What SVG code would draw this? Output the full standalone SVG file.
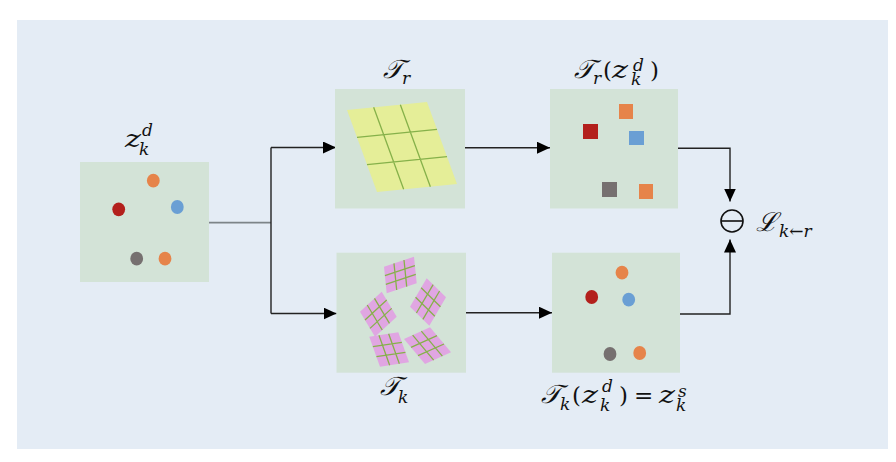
<svg xmlns="http://www.w3.org/2000/svg" width="896" height="462" viewBox="0 0 896 462">
<style>
.box{fill:#d3e3d7}
.m{font-family:"DejaVu Serif","Liberation Serif",serif;font-style:italic;fill:#111;font-size:23px}
.n{font-style:normal}
.z{font-size:24px}
.sm{font-size:17px}
.cal{font-size:26px}
.ln{fill:none;stroke:#222;stroke-width:1.4}
.g{stroke:#86b14a;stroke-width:1.3;vector-effect:non-scaling-stroke;fill:none}
.pk{fill:#e0a6e2}
.yl{fill:#e5ee98}
</style>
<defs>
<marker id="ah" markerUnits="userSpaceOnUse" markerWidth="14" markerHeight="13" refX="13" refY="6" orient="auto">
<path d="M0,0 L13,6 L0,12 z" fill="#000"/>
</marker>
<g id="grid">
<path class="g" d="M0,0.333H1M0,0.667H1M0.333,0V1M0.667,0V1"/>
</g>
</defs>
<rect x="17" y="20" width="871" height="429" fill="#e4ecf5"/>

<g id="connectors">
<path d="M209,222.7H271" fill="none" stroke="#7d8488" stroke-width="1.8"/>
<path class="ln" d="M271,147.5V313.5" stroke="#555"/>
<path class="ln" d="M271,147.5H336" marker-end="url(#ah)"/>
<path class="ln" d="M271,313.5H336.5" marker-end="url(#ah)"/>
<path class="ln" d="M465,147.7H550" marker-end="url(#ah)"/>
<path class="ln" d="M466,312.7H552" marker-end="url(#ah)"/>
<path class="ln" d="M678,148.3H730V201.5" marker-end="url(#ah)"/>
<path class="ln" d="M680,314H730V239.5" marker-end="url(#ah)"/>
</g>

<g id="node-zkd">
<rect class="box" x="80" y="162" width="129" height="120"/>
<ellipse cx="153.3" cy="180.7" rx="6.4" ry="6.9" fill="#e6844a"/>
<ellipse cx="118.7" cy="209.3" rx="6.4" ry="6.9" fill="#b3201c"/>
<ellipse cx="177.3" cy="207" rx="6.4" ry="6.9" fill="#6a9fd4"/>
<ellipse cx="136.7" cy="258.7" rx="6.4" ry="6.9" fill="#767070"/>
<ellipse cx="165" cy="258.7" rx="6.4" ry="6.9" fill="#e6844a"/>
<text class="m"><tspan class="z" x="125" y="147" textLength="16" lengthAdjust="spacingAndGlyphs">z</tspan><tspan class="sm" x="142" y="136">d</tspan><tspan class="sm" x="139" y="155">k</tspan></text>
</g>

<g id="node-Tr">
<rect class="box" x="335" y="89" width="130" height="119.5"/>
<g transform="matrix(80,-8,30,82,347,110)">
<rect class="yl" x="0" y="0" width="1" height="1"/>
<use href="#grid"/>
</g>
<text class="m"><tspan class="cal" x="383" y="78">𝒯</tspan><tspan class="sm" x="402" y="84">r</tspan></text>
</g>

<g id="node-Tk">
<rect class="box" x="336.5" y="252.7" width="129.5" height="120"/>
<g transform="matrix(30,-10,2.7,26.6,384,266.7)"><rect class="pk" width="1" height="1"/><use href="#grid"/></g>
<g transform="matrix(19.3,19,-16.7,28.4,426.7,278.3)"><rect class="pk" width="1" height="1"/><use href="#grid"/></g>
<g transform="matrix(15,25,-21.7,20,381.7,291.7)"><rect class="pk" width="1" height="1"/><use href="#grid"/></g>
<g transform="matrix(29,-4.4,10.7,30,369.3,336.7)"><rect class="pk" width="1" height="1"/><use href="#grid"/></g>
<g transform="matrix(26,-11.7,21,25,404,339)"><rect class="pk" width="1" height="1"/><use href="#grid"/></g>
<text class="m"><tspan class="cal" x="380" y="395">𝒯</tspan><tspan class="sm" x="398" y="403">k</tspan></text>
</g>

<g id="node-Trz">
<rect class="box" x="550" y="89" width="128" height="119.5"/>
<rect x="619" y="104" width="14" height="15" fill="#e6844a"/>
<rect x="583" y="124" width="15" height="15" fill="#b3201c"/>
<rect x="629" y="131" width="15" height="14" fill="#6a9fd4"/>
<rect x="602" y="182" width="15" height="15" fill="#767070"/>
<rect x="639" y="184" width="14" height="15" fill="#e6844a"/>
<text class="m"><tspan class="cal" x="574" y="78">𝒯</tspan><tspan class="sm" x="593" y="84">r</tspan><tspan class="n" x="603" y="78">(</tspan><tspan class="z" x="612" y="78" textLength="16" lengthAdjust="spacingAndGlyphs">z</tspan><tspan class="sm" x="633" y="70.5">d</tspan><tspan class="sm" x="631" y="85">k</tspan><tspan class="n" x="650" y="78">)</tspan></text>
</g>

<g id="node-Tkz">
<rect class="box" x="552" y="252.7" width="128" height="120"/>
<ellipse cx="622" cy="272.7" rx="6.4" ry="6.9" fill="#e6844a"/>
<ellipse cx="591.7" cy="297" rx="6.4" ry="6.9" fill="#b3201c"/>
<ellipse cx="628.7" cy="299.7" rx="6.4" ry="6.9" fill="#6a9fd4"/>
<ellipse cx="610" cy="354" rx="6.4" ry="6.9" fill="#767070"/>
<ellipse cx="639.7" cy="353" rx="6.4" ry="6.9" fill="#e6844a"/>
<text class="m"><tspan class="cal" x="541" y="403">𝒯</tspan><tspan class="sm" x="560" y="410">k</tspan><tspan class="n" x="572" y="403">(</tspan><tspan class="z" x="582" y="403" textLength="16" lengthAdjust="spacingAndGlyphs">z</tspan><tspan class="sm" x="602" y="391.5">d</tspan><tspan class="sm" x="600" y="411">k</tspan><tspan class="n" x="619" y="403">)</tspan><tspan class="n" x="634" y="403">=</tspan><tspan class="z" x="659" y="403" textLength="16" lengthAdjust="spacingAndGlyphs">z</tspan><tspan class="sm" x="678" y="396.5">s</tspan><tspan class="sm" x="676" y="411">k</tspan></text>
</g>

<g id="node-loss">
<circle cx="732" cy="221" r="11" fill="none" stroke="#111" stroke-width="1.6"/>
<path d="M721,221H743" stroke="#111" stroke-width="1.6"/>
<text class="m"><tspan class="cal" x="756" y="231">ℒ</tspan><tspan class="sm" x="779" y="237">k←r</tspan></text>
</g>
</svg>
